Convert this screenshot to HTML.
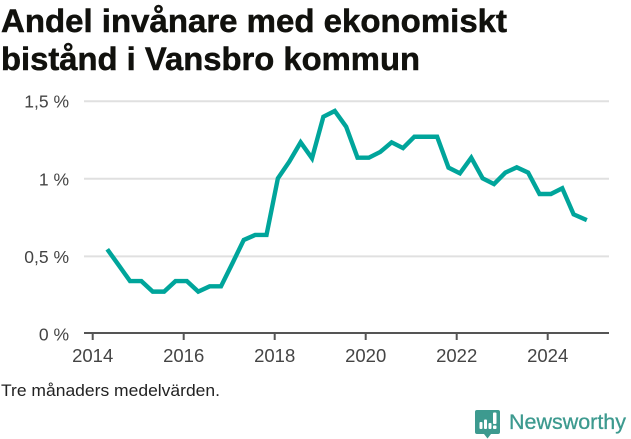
<!DOCTYPE html>
<html lang="sv">
<head>
<meta charset="utf-8">
<title>Andel invånare med ekonomiskt bistånd i Vansbro kommun</title>
<style>
html,body{margin:0;padding:0;background:#fff;width:631px;height:439px;overflow:hidden}
svg{display:block;font-family:"Liberation Sans",sans-serif}
</style>
</head>
<body>
<svg id="chart" width="631" height="439" viewBox="0 0 631 439" xmlns="http://www.w3.org/2000/svg">
  <text x="1" y="32" font-size="32" font-weight="700" fill="#11110d" stroke="#11110d" stroke-width="0.5" textLength="506" lengthAdjust="spacingAndGlyphs">Andel invånare med ekonomiskt</text>
  <text x="1" y="70" font-size="32" font-weight="700" fill="#11110d" stroke="#11110d" stroke-width="0.5" textLength="419" lengthAdjust="spacingAndGlyphs">bistånd i Vansbro kommun</text>
  <g id="grid"></g>
  <g id="axes"></g>
  <path id="series" fill="none" stroke="#00a59b" stroke-width="4.4" stroke-linejoin="miter"></path>
  <text x="1" y="396" font-size="17" fill="#222" textLength="219" lengthAdjust="spacingAndGlyphs">Tre månaders medelvärden.</text>
  <g>
    <path d="M477 410 h21 a2 2 0 0 1 2 2 v20 a2 2 0 0 1 -2 2 h-7 l-3.500 4.500 l-3.500 -4.500 h-7 a2 2 0 0 1 -2 -2 v-20 a2 2 0 0 1 2 -2 z" fill="#3d9a8f"></path>
    <rect x="479.500" y="422" width="3" height="7" rx="1" fill="#fff"></rect>
    <rect x="484" y="419.500" width="3" height="9.500" rx="1" fill="#fff"></rect>
    <rect x="488.500" y="423" width="3" height="6" rx="1" fill="#fff"></rect>
    <rect x="493" y="412.500" width="3.500" height="11.500" rx="1" fill="#fff"></rect>
    <rect x="493" y="425.500" width="3.500" height="3.500" rx="1" fill="#fff"></rect>
    <text x="509" y="429" font-size="21" fill="#3d9a8f" stroke="#3d9a8f" stroke-width="0.3" textLength="117" lengthAdjust="spacingAndGlyphs">Newsworthy</text>
  </g>
</svg>
<script>
const dates = [2014.32,2014.57,2014.82,2015.07,2015.32,2015.57,2015.82,2016.07,2016.32,2016.57,2016.82,2017.07,2017.32,2017.57,2017.82,2018.07,2018.32,2018.57,2018.82,2019.07,2019.32,2019.57,2019.82,2020.07,2020.32,2020.57,2020.82,2021.07,2021.32,2021.57,2021.82,2022.07,2022.32,2022.57,2022.82,2023.07,2023.32,2023.57,2023.82,2024.07,2024.32,2024.57,2024.86];
const values = [0.546,0.444,0.341,0.341,0.273,0.273,0.341,0.341,0.273,0.307,0.307,0.455,0.606,0.638,0.638,1.003,1.11,1.235,1.132,1.40,1.437,1.336,1.136,1.136,1.173,1.235,1.198,1.271,1.271,1.271,1.072,1.035,1.136,1.003,0.966,1.04,1.074,1.04,0.902,0.902,0.939,0.771,0.734];
const xTicks = [2014,2016,2018,2020,2022,2024];
const yTicks = [0,0.5,1,1.5];
const yTickLabels = ['0 %','0,5 %','1 %','1,5 %'];

const NS = 'http://www.w3.org/2000/svg';
const xScale = function (year) { return 92.7 + (year - 2014) * 45.5; };
const yScale = function (v) { return 334 - v * 155.2; };

const grid = document.getElementById('grid');
const axes = document.getElementById('axes');

yTicks.forEach(function (t, i) {
  const y = yScale(t);
  if (t !== 0) {
    const g = document.createElementNS(NS, 'line');
    g.setAttribute('x1', 84); g.setAttribute('x2', 609);
    g.setAttribute('y1', y); g.setAttribute('y2', y);
    g.setAttribute('stroke', '#e0e0e0'); g.setAttribute('stroke-width', 2);
    
    
    grid.appendChild(g);
  }
  const l = document.createElementNS(NS, 'text');
  l.setAttribute('x', 69); l.setAttribute('y', y + 6.5);
  l.setAttribute('text-anchor', 'end');
  l.setAttribute('font-size', 17.5); l.setAttribute('fill', '#444');
  l.textContent = yTickLabels[i];
  
  
  axes.appendChild(l);
});

const base = document.createElementNS(NS, 'line');
base.setAttribute('x1', 84); base.setAttribute('x2', 609);
base.setAttribute('y1', 333); base.setAttribute('y2', 333);
base.setAttribute('stroke', '#555'); base.setAttribute('stroke-width', 2);


axes.appendChild(base);

xTicks.forEach(function (t) {
  const x = xScale(t);
  const tick = document.createElementNS(NS, 'line');
  tick.setAttribute('x1', x); tick.setAttribute('x2', x);
  tick.setAttribute('y1', 333); tick.setAttribute('y2', 340);
  tick.setAttribute('stroke', '#555'); tick.setAttribute('stroke-width', 2);
  
  
  axes.appendChild(tick);
  const l = document.createElementNS(NS, 'text');
  l.setAttribute('x', x); l.setAttribute('y', 362);
  l.setAttribute('text-anchor', 'middle');
  l.setAttribute('font-size', 18.5); l.setAttribute('fill', '#444');
  l.textContent = String(t);
  
  
  axes.appendChild(l);
});

document.getElementById('series').setAttribute('d', values.map(function (v, i) {
  return (i ? 'L' : 'M') + xScale(dates[i]).toFixed(2) + ' ' + yScale(v).toFixed(2);
}).join(' '));
</script>
</body>
</html>
